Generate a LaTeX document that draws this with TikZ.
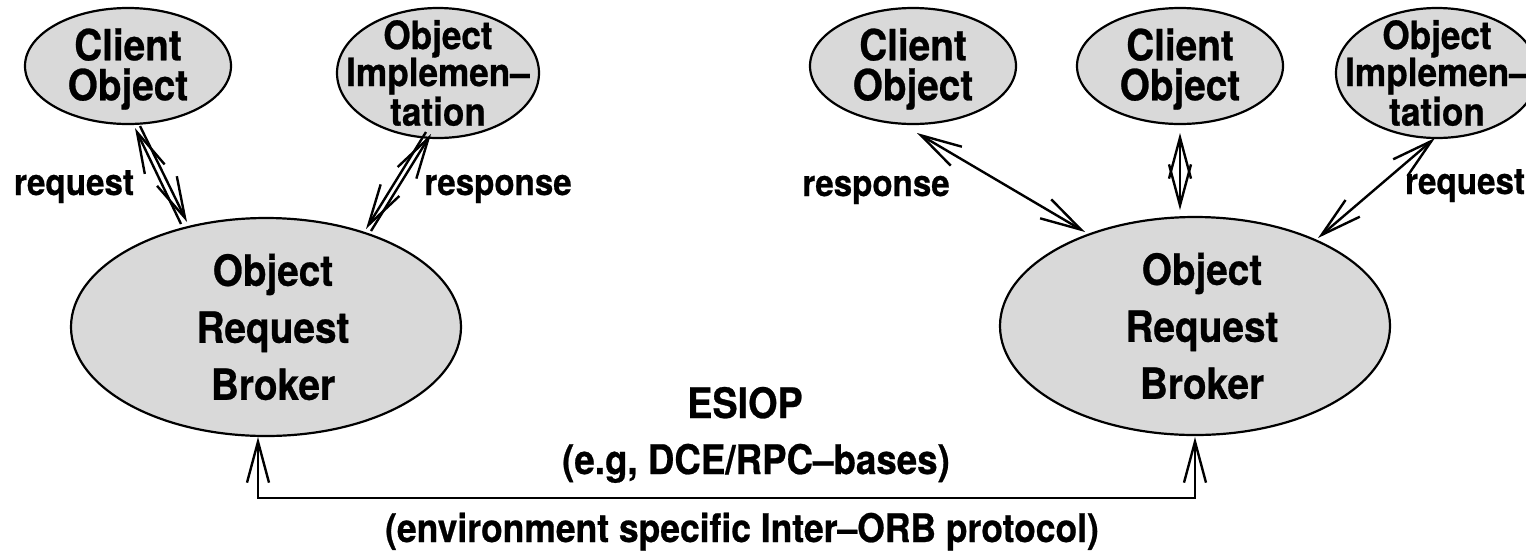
\documentclass[tikz,border=0pt]{standalone}
\usepackage{fontspec}
\setmainfont{TeX Gyre Heros}[FakeStretch=0.9,BoldFeatures={FakeBold=0.6}]
\usetikzlibrary{arrows.meta,shapes.geometric}
\definecolor{orbfill}{RGB}{217,217,217}
\begin{document}
\begin{tikzpicture}[x=0.5pt,y=-0.5pt,
  >={Straight Barb[length=20.5pt,width=11pt]},
  blob/.style={draw,line width=1.1pt,fill=orbfill,shape=ellipse,inner sep=0pt},
  small/.style={blob,minimum width=103pt,minimum height=58pt},
  impl/.style={blob,minimum width=101pt,minimum height=65pt},
  broker/.style={blob,minimum width=195pt,minimum height=109pt},
  clienttxt/.style={font=\bfseries\fontsize{21.5}{20}\selectfont,align=center,inner sep=0pt,yshift=-1.5pt},
  impltxt/.style={font=\bfseries\fontsize{19.5}{18.5}\selectfont,align=center,inner sep=0pt},
  brokertxt/.style={font=\bfseries\fontsize{21.5}{28.5}\selectfont,align=center,inner sep=0pt},
  lbl/.style={font=\bfseries\fontsize{18.4}{20}\selectfont,anchor=base,inner sep=0pt},
  link/.style={line width=1.2pt}]
\useasboundingbox (0,0) rectangle (1526,553);

% left side
\node[small]  (cliA)  at (128,66)  {};
\node[impl]   (impA)  at (438,73)  {};
\node[broker] (orbA)  at (266,327) {};
\node[clienttxt] (cliAt) at (cliA) {Client\\Object};
\node[impltxt]   (impAt) at (impA) {Object\\Implemen–\\tation};
\node[brokertxt] (orbAt) at ([xshift=3.5pt]orbA.center) {Object\\Request\\Broker};

% right side
\node[small]  (cliB)  at (913,66)   {};
\node[small]  (cliC)  at (1180,66)  {};
\node[impl]   (impB)  at (1437,73)  {};
\node[broker] (orbB)  at (1195,326) {};
\node[clienttxt] (cliBt) at (cliB) {Client\\Object};
\node[clienttxt] (cliCt) at (cliC) {Client\\Object};
\node[impltxt]   (impBt) at (impB) {Object\\Implemen–\\tation};
\node[brokertxt] (orbBt) at ([xshift=3.5pt]orbB.center) {Object\\Request\\Broker};

% request/response links, left
\draw[link,->] ([shift={(-85,-103)}]orbA.center) -- ([shift={(7,62)}]cliA.center);
\draw[link,->] ([shift={(12,60)}]cliA.center) -- ([shift={(-79,-105)}]orbA.center);
\draw[link,->] ([shift={(105,-96)}]orbA.center) -- ([shift={(-7,61)}]impA.center);
\draw[link,->] ([shift={(-12,59)}]impA.center) -- ([shift={(100,-98)}]orbA.center);

% request/response links, right
\draw[link,<->] ([shift={(4,67)}]cliB.center) -- ([shift={(-110,-94)}]orbB.center);
\draw[link,<->] ([shift={(0,67)}]cliC.center) -- ([shift={(-15,-116)}]orbB.center);
\draw[link,<->] ([shift={(-2,65)}]impB.center) -- ([shift={(123,-88)}]orbB.center);

% inter-ORB protocol
\coordinate (bus) at (726,498);
\draw[link,<->] ([shift={(-8,110)}]orbA.center) |- (bus) -| ([shift={(0,111)}]orbB.center);

% labels
\node[lbl] (reqA)  at (74,195)   {request};
\node[lbl] (resA)  at (498,195)  {response};
\node[lbl] (resB)  at (876,196)  {response};
\node[lbl] (reqB)  at (1465,194) {request};
\node[font=\bfseries\fontsize{21}{24}\selectfont,anchor=base,inner sep=0pt] (esiop) at (745,418) {ESIOP};
\node[font=\bfseries\fontsize{20.4}{24}\selectfont,anchor=base,inner sep=0pt] (dce) at (756,474) {(e.g, DCE/RPC–bases)};
\node[font=\bfseries\fontsize{19.7}{24}\selectfont,anchor=base,inner sep=0pt] (env) at (742,542) {(environment specific Inter–ORB protocol)};
\end{tikzpicture}
\end{document}
